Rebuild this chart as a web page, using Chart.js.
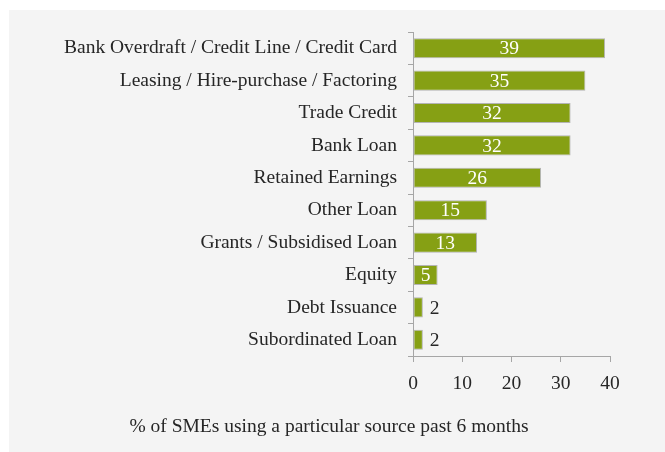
<!DOCTYPE html>
<html>
<head>
<meta charset="utf-8">
<script src="https://cdn.jsdelivr.net/npm/chart.js@4"></script>
<style>
  html, body { margin: 0; padding: 0; background: #ffffff; }
  #wrap { width: 665px; height: 452px; }
</style>
</head>
<body>
<div id="wrap"><canvas id="smeChart" width="665" height="452"></canvas></div>
<script>
// SME financing sources
const categories = [
    "Bank Overdraft / Credit Line / Credit Card",
    "Leasing / Hire-purchase / Factoring",
    "Trade Credit",
    "Bank Loan",
    "Retained Earnings",
    "Other Loan",
    "Grants / Subsidised Loan",
    "Equity",
    "Debt Issuance",
    "Subordinated Loan"
];
const shareValues = [39, 35, 32, 32, 26, 15, 13, 5, 2, 2];
const xTicks = [0, 10, 20, 30, 40];
const axisTitle = "% of SMEs using a particular source past 6 months";

const serif = "'Liberation Serif', 'DejaVu Serif', serif";
const fontSize = 19.5;

// gray panel behind the chart
const panelBg = {
    id: 'panelBg',
    beforeDraw(chart) {
        const ctx = chart.ctx;
        ctx.save();
        ctx.fillStyle = '#f4f4f4';
        ctx.fillRect(9, 10, chart.width - 9, chart.height - 10);
        ctx.restore();
    }
};

// value labels: white inside the bar, dark beside the short ones
const valueLabels = {
    id: 'valueLabels',
    afterDatasetsDraw(chart) {
        const ctx = chart.ctx;
        const meta = chart.getDatasetMeta(0);
        ctx.save();
        ctx.font = fontSize + 'px ' + serif;
        ctx.textBaseline = 'middle';
        meta.data.forEach((bar, i) => {
            const v = shareValues[i];
            const w = bar.x - bar.base;
            if (w > 18) {
                ctx.fillStyle = '#ffffff';
                ctx.textAlign = 'center';
                ctx.fillText(v, bar.base + w / 2, bar.y + 1);
            } else {
                ctx.fillStyle = '#262626';
                ctx.textAlign = 'left';
                ctx.fillText(v, bar.x + 7, bar.y + 1);
            }
        });
        ctx.restore();
    }
};

// axis caption below the ticks
const caption = {
    id: 'caption',
    afterDraw(chart) {
        const ctx = chart.ctx;
        ctx.save();
        ctx.font = fontSize + 'px ' + serif;
        ctx.fillStyle = '#262626';
        ctx.textAlign = 'center';
        ctx.textBaseline = 'middle';
        ctx.fillText(axisTitle, 329, 427);
        ctx.restore();
    }
};

const ctxSme = document.getElementById('smeChart').getContext('2d');
new Chart(ctxSme, {
    type: 'bar',
    data: {
        labels: categories,
        datasets: [{
            data: shareValues,
            backgroundColor: '#86a014',
            borderColor: '#b4b4b4',
            borderWidth: 1,
            borderSkipped: false,
            categoryPercentage: 1,
            barPercentage: 0.62
        }]
    },
    options: {
        indexAxis: 'y',
        responsive: false,
        animation: false,
        layout: { padding: { left: 7, right: 55, top: 32, bottom: 0 } },
        plugins: {
            legend: { display: false },
            tooltip: { enabled: false }
        },
        scales: {
            y: {
                afterFit(scale) { scale.width = 406; },
                grid: {
                    offset: true,
                    drawOnChartArea: false,
                    tickLength: 5,
                    color: '#a6a6a6'
                },
                border: { color: '#a6a6a6', width: 1 },
                ticks: {
                    color: '#262626',
                    font: { family: serif, size: fontSize },
                    padding: 11
                }
            },
            x: {
                min: 0,
                max: 40,
                afterFit(scale) { scale.height = 96; },
                afterBuildTicks(scale) { scale.ticks = xTicks.map(v => ({ value: v })); },
                grid: {
                    drawOnChartArea: false,
                    tickLength: 6,
                    color: '#a6a6a6'
                },
                border: { color: '#a6a6a6', width: 1 },
                ticks: {
                    color: '#262626',
                    font: { family: serif, size: fontSize },
                    padding: 10
                }
            }
        }
    },
    plugins: [panelBg, valueLabels, caption]
});
</script>
</body>
</html>
